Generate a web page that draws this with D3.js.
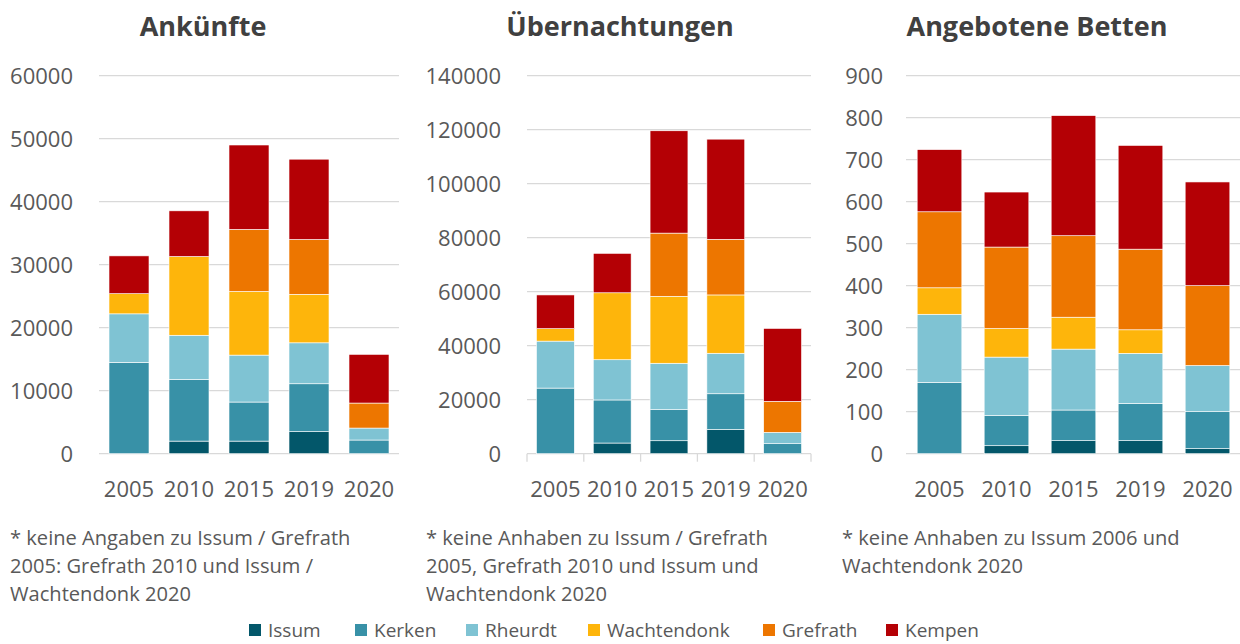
<!DOCTYPE html>
<html>
<head>
<meta charset="utf-8">
<script src="https://cdn.jsdelivr.net/npm/d3@7"></script>
<style>
  body { margin: 0; background: #fff; }
  text { font-family: "Open Sans", "Noto Sans", sans-serif; }
</style>
</head>
<body>
<div id="wrapper"></div>
<script>
//data
var years = ["2005", "2010", "2015", "2019", "2020"];
var towns = ["Issum", "Kerken", "Rheurdt", "Wachtendonk", "Grefrath", "Kempen"];
var townColors = ["#03576a", "#3891a7", "#7fc3d3", "#feb50b", "#ed7600", "#b40005"];

//one row per town, one value per year
var ankuenfte = [
    [0, 2000, 2000, 3500, 0],
    [14500, 9800, 6200, 7600, 2170],
    [7700, 7000, 7450, 6500, 1900],
    [3200, 12500, 10100, 7700, 0],
    [0, 0, 9850, 8700, 3970],
    [6000, 7250, 13400, 12750, 7730]
];
var uebernachtungen = [
    [0, 3950, 4800, 9000, 0],
    [24300, 15950, 11500, 13200, 3700],
    [17400, 14900, 17200, 15000, 4200],
    [4600, 24800, 24800, 21600, 0],
    [0, 0, 23400, 20600, 11500],
    [12500, 14600, 37900, 37100, 27000]
];
var betten = [
    [0, 19, 31, 31, 12],
    [170, 72, 73, 89, 88],
    [162, 139, 145, 119, 110],
    [63, 68, 76, 56, 0],
    [181, 194, 194, 192, 190],
    [148, 131, 286, 247, 247]
];

var ankuenfteTicks = [0, 10000, 20000, 30000, 40000, 50000, 60000];
var uebernachtungenTicks = [0, 20000, 40000, 60000, 80000, 100000, 120000, 140000];
var bettenTicks = [0, 100, 200, 300, 400, 500, 600, 700, 800, 900];

var notes1 = ["* keine Angaben zu Issum / Grefrath", "2005: Grefrath 2010 und Issum /", "Wachtendonk 2020"];
var notes2 = ["* keine Anhaben zu Issum / Grefrath", "2005, Grefrath 2010 und Issum und", "Wachtendonk 2020"];
var notes3 = ["* keine Anhaben zu Issum 2006 und", "Wachtendonk 2020"];

var width = 1240;
var height = 644;
var grey = "#595959";
var gridColor = "#d9d9d9";

var svg = d3.select("#wrapper")
    .append("svg")
    .attr("width", width)
    .attr("height", height);

var colorScale = d3.scaleOrdinal().domain(towns).range(townColors);

/*one panel = title, gridlines, stacked bars, year labels, footnote*/
function drawPanel(opts) {
    var g = svg.append("g");

    var x = d3.scaleBand()
        .domain(years)
        .range([opts.x0, opts.x1])
        .paddingInner(1 / 3)
        .paddingOuter(1 / 6);

    var y = d3.scaleLinear()
        .domain([0, opts.max])
        .range([453.7, 75.7]);

    //rows -> objects for d3.stack
    var table = years.map(function(yr, i) {
        var row = { year: yr };
        towns.forEach(function(t, j) { row[t] = opts.rows[j][i]; });
        return row;
    });
    var series = d3.stack().keys(towns)(table);

    //title
    g.append("text")
        .attr("x", opts.titleX)
        .attr("y", 36)
        .attr("text-anchor", "middle")
        .attr("font-size", 27)
        .attr("font-weight", "bold")
        .attr("fill", "#404040")
        .text(opts.title);

    //gridlines + y labels
    g.selectAll(".grid")
        .data(opts.ticks)
        .enter().append("line")
        .attr("x1", opts.x0)
        .attr("x2", opts.x1)
        .attr("y1", function(d) { return y(d); })
        .attr("y2", function(d) { return y(d); })
        .attr("stroke", gridColor)
        .attr("stroke-width", 1.3);

    g.selectAll(".ylab")
        .data(opts.ticks)
        .enter().append("text")
        .attr("x", opts.labelX)
        .attr("y", function(d) { return y(d) + 8; })
        .attr("text-anchor", "end")
        .attr("font-size", 22)
        .attr("fill", grey)
        .text(function(d) { return d; });

    //small category ticks under the axis (only middle chart has them)
    if (opts.catTicks) {
        var step = x.step();
        var edges = d3.range(years.length + 1).map(function(i) { return opts.x0 + i * step; });
        g.selectAll(".ctick")
            .data(edges)
            .enter().append("line")
            .attr("x1", function(d) { return d; })
            .attr("x2", function(d) { return d; })
            .attr("y1", y(0))
            .attr("y2", y(0) + 8)
            .attr("stroke", gridColor)
            .attr("stroke-width", 1.3);
    }

    //stacked bars
    g.selectAll(".layer")
        .data(series)
        .enter().append("g")
        .attr("fill", function(d) { return colorScale(d.key); })
        .selectAll("rect")
        .data(function(d) { return d; })
        .enter().append("rect")
        .filter(function(d) { return d[1] - d[0] > 0; })
        .attr("x", function(d) { return x(d.data.year); })
        .attr("width", x.bandwidth())
        .attr("y", function(d) { return y(d[1]); })
        .attr("height", function(d) { return y(d[0]) - y(d[1]); })
        .attr("stroke", "#fff")
        .attr("stroke-width", 0.6);

    //year labels
    g.selectAll(".xlab")
        .data(years)
        .enter().append("text")
        .attr("x", function(d) { return x(d) + x.bandwidth() / 2; })
        .attr("y", 497)
        .attr("text-anchor", "middle")
        .attr("font-size", 22)
        .attr("fill", grey)
        .text(function(d) { return d; });

    //footnote
    g.selectAll(".note")
        .data(opts.notes)
        .enter().append("text")
        .attr("x", opts.noteX)
        .attr("y", function(d, i) { return 545 + i * 28; })
        .attr("font-size", 20.1)
        .attr("fill", grey)
        .text(function(d) { return d; });
}

drawPanel({ title: "Ankünfte", titleX: 203, rows: ankuenfte, ticks: ankuenfteTicks, max: 60000,
    x0: 99, x1: 399, labelX: 73, noteX: 10, notes: notes1, catTicks: false });
drawPanel({ title: "Übernachtungen", titleX: 620, rows: uebernachtungen, ticks: uebernachtungenTicks, max: 140000,
    x0: 527, x1: 811, labelX: 501, noteX: 426, notes: notes2, catTicks: true });
drawPanel({ title: "Angebotene Betten", titleX: 1037, rows: betten, ticks: bettenTicks, max: 900,
    x0: 906, x1: 1241, labelX: 883, noteX: 842, notes: notes3, catTicks: false });

//legend along the bottom
var legendX = [249, 355, 466, 588, 763, 886];
var legend = svg.selectAll(".legend")
    .data(towns)
    .enter().append("g")
    .attr("transform", function(d, i) { return "translate(" + legendX[i] + ",624)"; });
legend.append("rect")
    .attr("width", 12)
    .attr("height", 12)
    .attr("fill", function(d) { return colorScale(d); });
legend.append("text")
    .attr("x", 19)
    .attr("y", 13)
    .attr("font-size", 19)
    .attr("fill", grey)
    .text(function(d) { return d; });
</script>
</body>
</html>
